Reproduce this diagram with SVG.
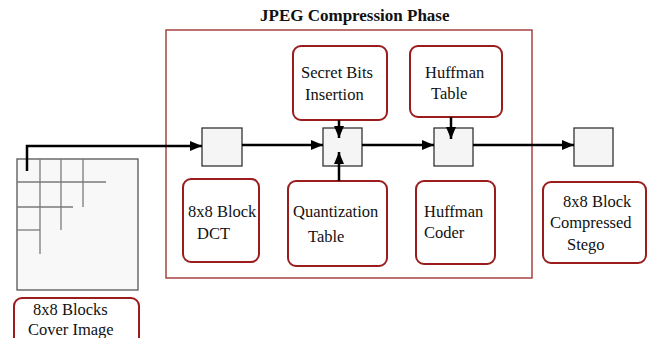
<svg xmlns="http://www.w3.org/2000/svg" width="654" height="338" viewBox="0 0 654 338" font-family="'Liberation Serif', 'Times New Roman', serif">
  <style>
    text { font-family: "Liberation Serif", "Times New Roman", serif; font-size: 16.5px; fill: #111; }
    .title { font-weight: bold; font-size: 17px; }
    .node { fill: #ffffff; stroke: #9a1c1c; stroke-width: 2; }
    .block { fill: #f5f5f5; stroke: #333; stroke-width: 1.3; }
    .frame { fill: none; stroke: #a84444; stroke-width: 1.5; }
    .grid { stroke: #7a7a7a; stroke-width: 1.3; }
    .conn { fill: none; stroke: #000; stroke-width: 2.5; }
  </style>
  <defs>
    <marker id="arrow" markerUnits="userSpaceOnUse" markerWidth="12" markerHeight="10" refX="12" refY="5" orient="auto">
      <path d="M0,0 L12,5 L0,10 z" fill="#000"/>
    </marker>
  </defs>

  <rect width="654" height="338" fill="#ffffff"/>

  <!-- compression stage frame -->
  <g id="phase">
    <rect class="frame" x="166" y="30" width="366" height="248"/>
    <text class="title" x="260" y="21">JPEG Compression Phase</text>
  </g>

  <!-- cover image split into 8x8 blocks -->
  <g id="cover-image">
    <rect x="17" y="159" width="121" height="131" fill="#f8f8f8" stroke="#555" stroke-width="1.3"/>
    <line class="grid" x1="17" y1="182" x2="106" y2="182"/>
    <line class="grid" x1="17" y1="207" x2="73" y2="207"/>
    <line class="grid" x1="17" y1="230" x2="40" y2="230"/>
    <line class="grid" x1="40" y1="159" x2="40" y2="254"/>
    <line class="grid" x1="61" y1="159" x2="61" y2="230" stroke="#222"/>
    <line class="grid" x1="83" y1="159" x2="83" y2="207"/>
  </g>

  <g id="cover-label">
    <rect class="node" x="14" y="298" width="125" height="52" rx="8"/>
    <text x="33" y="315">8x8 Blocks</text>
    <text x="28" y="335">Cover Image</text>
  </g>

  <!-- processing blocks -->
  <g id="block-dct"><rect class="block" x="202" y="128" width="40" height="38"/></g>
  <g id="block-quant"><rect class="block" x="323" y="128" width="39" height="38"/></g>
  <g id="block-huff"><rect class="block" x="434" y="128" width="39" height="38"/></g>
  <g id="block-out"><rect class="block" x="574" y="128" width="39" height="38"/></g>

  <g id="secret-bits">
    <rect class="node" x="293" y="46" width="94" height="74" rx="8"/>
    <text x="301" y="78">Secret Bits</text>
    <text x="305" y="100">Insertion</text>
  </g>

  <g id="huffman-table">
    <rect class="node" x="410" y="46" width="92" height="71" rx="8"/>
    <text x="425" y="78">Huffman</text>
    <text x="431" y="99">Table</text>
  </g>

  <g id="dct">
    <rect class="node" x="183" y="179" width="76" height="83" rx="8"/>
    <text x="188" y="217">8x8 Block</text>
    <text x="197" y="239">DCT</text>
  </g>

  <g id="quantization-table">
    <rect class="node" x="288" y="181" width="99" height="85" rx="8"/>
    <text x="293" y="217">Quantization</text>
    <text x="308" y="242">Table</text>
  </g>

  <g id="huffman-coder">
    <rect class="node" x="416" y="181" width="79" height="83" rx="8"/>
    <text x="424" y="217">Huffman</text>
    <text x="424" y="238">Coder</text>
  </g>

  <g id="stego">
    <rect class="node" x="543" y="182" width="103" height="81" rx="8"/>
    <text x="563" y="207">8x8 Block</text>
    <text x="550" y="228">Compressed</text>
    <text x="567" y="250">Stego</text>
  </g>

  <!-- data flow -->
  <g id="connectors">
    <path class="conn" d="M27,171 V146 H202" marker-end="url(#arrow)"/>
    <line class="conn" x1="242" y1="145" x2="323" y2="145" marker-end="url(#arrow)"/>
    <line class="conn" x1="362" y1="145" x2="434" y2="145" marker-end="url(#arrow)"/>
    <line class="conn" x1="473" y1="145" x2="574" y2="145" marker-end="url(#arrow)"/>
    <line class="conn" x1="339" y1="120" x2="339" y2="138" marker-end="url(#arrow)"/>
    <line class="conn" x1="339" y1="181" x2="339" y2="152" marker-end="url(#arrow)"/>
    <line class="conn" x1="451" y1="117" x2="451" y2="139" marker-end="url(#arrow)"/>
  </g>
</svg>
